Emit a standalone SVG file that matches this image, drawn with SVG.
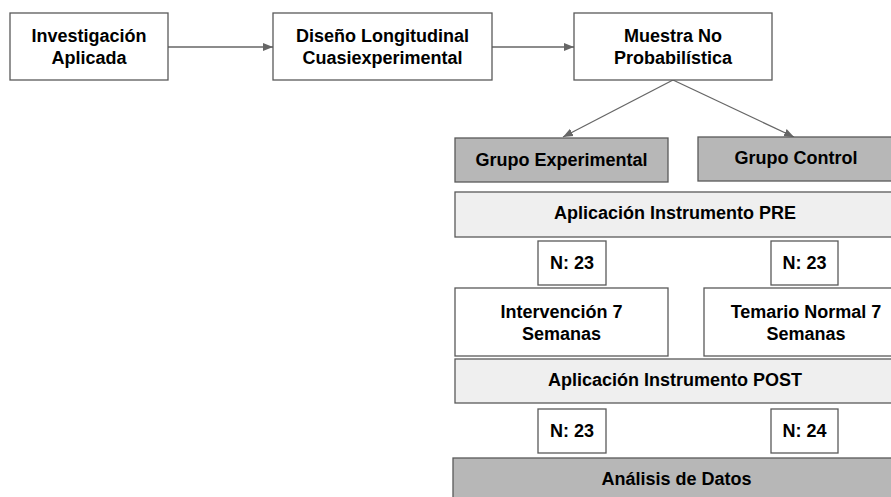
<svg xmlns="http://www.w3.org/2000/svg" width="891" height="497" viewBox="0 0 891 497">
  <defs>
    <marker id="arrow" viewBox="0 0 10 10" refX="10" refY="5" markerWidth="10" markerHeight="10" markerUnits="userSpaceOnUse" orient="auto">
      <path d="M0,1 L10,5 L0,9 Z" fill="#666666"/>
    </marker>
    <style>
      .box { stroke: #595959; stroke-width: 1.3; }
      .white { fill: #ffffff; }
      .light { fill: #efefef; }
      .dark { fill: #b7b7b7; }
      text { font-family: "Liberation Sans", Arial, sans-serif; font-weight: bold; font-size: 18px; fill: #000000; text-anchor: middle; }
      .conn { stroke: #666666; stroke-width: 1.3; fill: none; marker-end: url(#arrow); }
    </style>
  </defs>
  <rect width="891" height="497" fill="#ffffff"/>

  <g id="connectors">
    <line class="conn" x1="168" y1="47" x2="273" y2="47"/>
    <line class="conn" x1="492" y1="47" x2="574" y2="47"/>
    <line class="conn" x1="673" y1="80" x2="563" y2="137"/>
    <line class="conn" x1="673" y1="80" x2="794" y2="137"/>
  </g>

  <g id="investigacion">
    <rect class="box white" x="10" y="13" width="158" height="67"/>
    <text x="89" y="42">Investigación</text>
    <text x="89" y="64">Aplicada</text>
  </g>
  <g id="diseno">
    <rect class="box white" x="273" y="13" width="219" height="67"/>
    <text x="382.5" y="42">Diseño Longitudinal</text>
    <text x="382.5" y="64">Cuasiexperimental</text>
  </g>
  <g id="muestra">
    <rect class="box white" x="574" y="13" width="198" height="67"/>
    <text x="673" y="42">Muestra No</text>
    <text x="673" y="64">Probabilística</text>
  </g>

  <g id="grupo-experimental">
    <rect class="box dark" x="455" y="138" width="213" height="44"/>
    <text x="561.5" y="166">Grupo Experimental</text>
  </g>
  <g id="grupo-control">
    <rect class="box dark" x="698" y="137" width="196" height="44"/>
    <text x="796" y="164">Grupo Control</text>
  </g>

  <g id="pre">
    <rect class="box light" x="455" y="192" width="440" height="45"/>
    <text x="675" y="219">Aplicación Instrumento PRE</text>
  </g>

  <g id="n-pre-exp">
    <rect class="box white" x="538" y="241" width="68" height="44"/>
    <text x="572" y="269">N: 23</text>
  </g>
  <g id="n-pre-ctrl">
    <rect class="box white" x="771" y="241" width="67" height="44"/>
    <text x="804.5" y="269">N: 23</text>
  </g>

  <g id="intervencion">
    <rect class="box white" x="455" y="288" width="213" height="68"/>
    <text x="561.5" y="318">Intervención 7</text>
    <text x="561.5" y="340">Semanas</text>
  </g>
  <g id="temario">
    <rect class="box white" x="704" y="288" width="204" height="68"/>
    <text x="806" y="318">Temario Normal 7</text>
    <text x="806" y="340">Semanas</text>
  </g>

  <g id="post">
    <rect class="box light" x="455" y="359" width="440" height="44"/>
    <text x="675" y="386">Aplicación Instrumento POST</text>
  </g>

  <g id="n-post-exp">
    <rect class="box white" x="538" y="409" width="68" height="44"/>
    <text x="572" y="437">N: 23</text>
  </g>
  <g id="n-post-ctrl">
    <rect class="box white" x="771" y="409" width="67" height="44"/>
    <text x="804.5" y="437">N: 24</text>
  </g>

  <g id="analisis">
    <rect class="box dark" x="453" y="458" width="447" height="60"/>
    <text x="676.5" y="485">Análisis de Datos</text>
  </g>
</svg>
